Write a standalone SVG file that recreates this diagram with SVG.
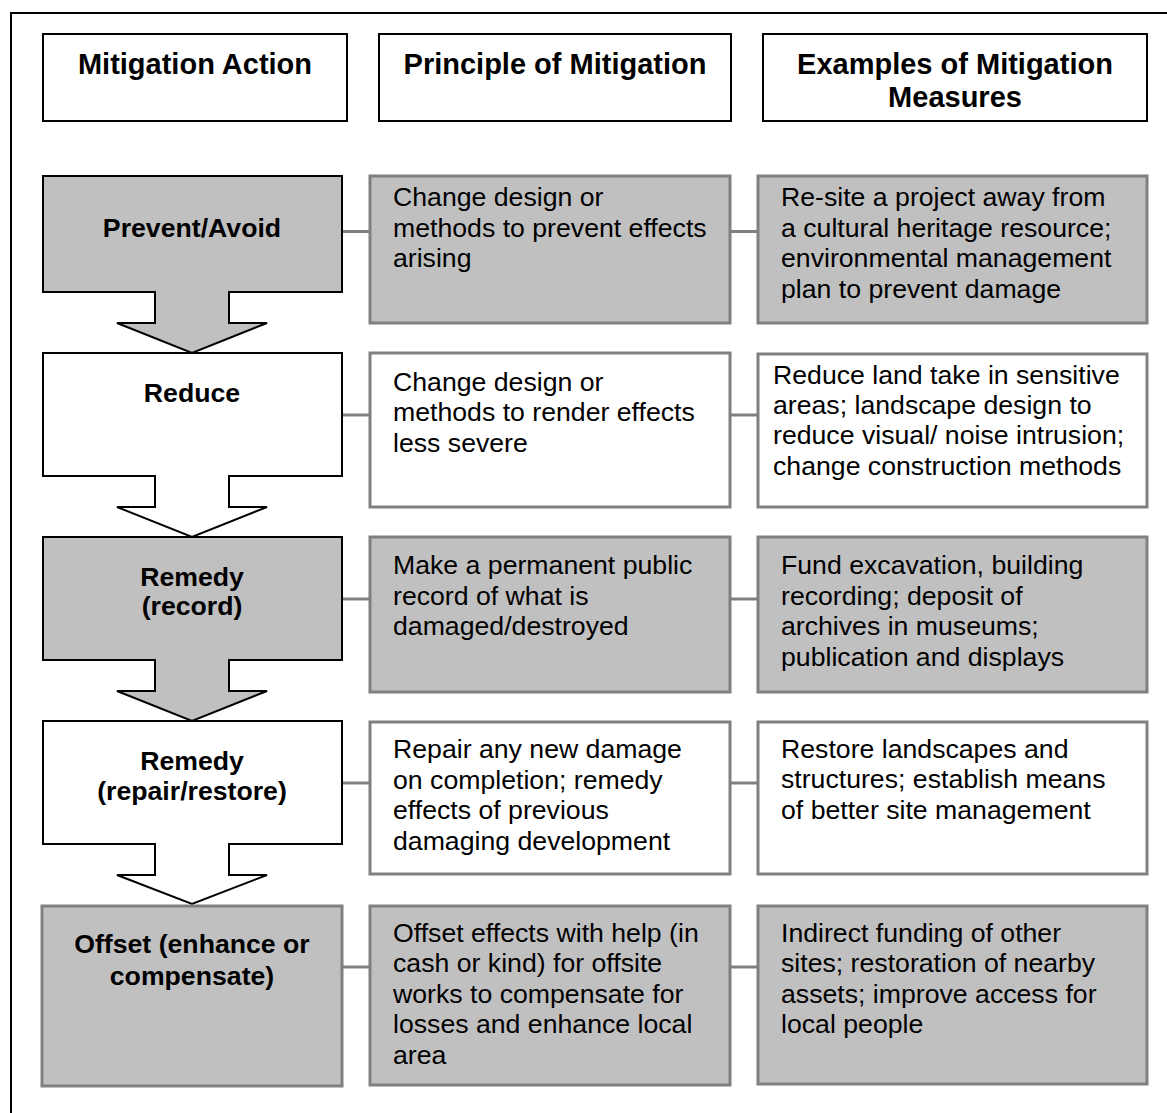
<svg xmlns="http://www.w3.org/2000/svg" width="1167" height="1113" viewBox="0 0 1167 1113">
  <style>
    .frame { fill: none; stroke: #000; stroke-width: 2; }
    .head { fill: #fff; stroke: #000; stroke-width: 2; }
    .htxt { font-family: "Liberation Sans", Arial, sans-serif; font-size: 29px; font-weight: bold; fill: #000; text-anchor: middle; }
    .act-grey { fill: #c0c0c0; stroke: #000; stroke-width: 2; stroke-linejoin: miter; }
    .act-white { fill: #fff; stroke: #000; stroke-width: 2; stroke-linejoin: miter; }
    .act-end { fill: #c0c0c0; stroke: #808080; stroke-width: 3; }
    .atxt { font-family: "Liberation Sans", Arial, sans-serif; font-size: 26.67px; font-weight: bold; fill: #000; text-anchor: middle; }
    .box-grey { fill: #c0c0c0; stroke: #808080; stroke-width: 3; }
    .box-white { fill: #fff; stroke: #808080; stroke-width: 3; }
    .btxt { font-family: "Liberation Sans", Arial, sans-serif; font-size: 26.67px; fill: #000; }
    .link { stroke: #808080; stroke-width: 3; fill: none; }
  </style>

  <!-- outer frame (runs off the right and bottom edges) -->
  <rect class="frame" x="11" y="13" width="1200" height="1200"/>

  <!-- connectors -->
  <g id="connectors">
    <line class="link" x1="342" y1="231.5" x2="370" y2="231.5"/>
    <line class="link" x1="730" y1="231.5" x2="758" y2="231.5"/>
    <line class="link" x1="342" y1="415" x2="370" y2="415"/>
    <line class="link" x1="730" y1="415" x2="758" y2="415"/>
    <line class="link" x1="342" y1="599" x2="370" y2="599"/>
    <line class="link" x1="730" y1="599" x2="758" y2="599"/>
    <line class="link" x1="342" y1="783" x2="370" y2="783"/>
    <line class="link" x1="730" y1="783" x2="758" y2="783"/>
    <line class="link" x1="342" y1="967" x2="370" y2="967"/>
    <line class="link" x1="730" y1="967" x2="758" y2="967"/>
  </g>

  <!-- column headers -->
  <g id="hdr-action">
    <rect class="head" x="43" y="34" width="304" height="87"/>
    <text class="htxt" x="195" y="74">Mitigation Action</text>
  </g>
  <g id="hdr-principle">
    <rect class="head" x="379" y="34" width="352" height="87"/>
    <text class="htxt" x="555" y="74">Principle of Mitigation</text>
  </g>
  <g id="hdr-examples">
    <rect class="head" x="763" y="34" width="384" height="87"/>
    <text class="htxt" x="955" y="74">Examples of Mitigation</text>
    <text class="htxt" x="955" y="107">Measures</text>
  </g>

  <!-- mitigation actions: boxes with downward block arrows -->
  <g id="act-prevent">
    <path class="act-grey" d="M43,176 H342 V292 H229 V323 H267 L192,353 L117,323 H155 V292 H43 Z"/>
    <text class="atxt" x="192" y="236.5">Prevent/Avoid</text>
  </g>
  <g id="act-reduce">
    <path class="act-white" d="M43,353 H342 V476 H229 V507 H267 L192,537 L117,507 H155 V476 H43 Z"/>
    <text class="atxt" x="192" y="401.5">Reduce</text>
  </g>
  <g id="act-record">
    <path class="act-grey" d="M43,537 H342 V660 H229 V691 H267 L192,721 L117,691 H155 V660 H43 Z"/>
    <text class="atxt" x="192" y="585.5">Remedy</text>
    <text class="atxt" x="192" y="615">(record)</text>
  </g>
  <g id="act-restore">
    <path class="act-white" d="M43,721 H342 V844 H229 V875 H267 L192,904 L117,875 H155 V844 H43 Z"/>
    <text class="atxt" x="192" y="770">Remedy</text>
    <text class="atxt" x="192" y="800">(repair/restore)</text>
  </g>
  <g id="act-offset">
    <rect class="act-end" x="42" y="906" width="300" height="180"/>
    <text class="atxt" x="192" y="953">Offset (enhance or</text>
    <text class="atxt" x="192" y="985">compensate)</text>
  </g>

  <!-- principles -->
  <g id="pr-prevent">
    <rect class="box-grey" x="370" y="176" width="360" height="147"/>
    <text class="btxt" x="393" y="206">Change design or</text>
    <text class="btxt" x="393" y="236.5">methods to prevent effects</text>
    <text class="btxt" x="393" y="267">arising</text>
  </g>
  <g id="pr-reduce">
    <rect class="box-white" x="370" y="353" width="360" height="154"/>
    <text class="btxt" x="393" y="390.5">Change design or</text>
    <text class="btxt" x="393" y="421">methods to render effects</text>
    <text class="btxt" x="393" y="451.5">less severe</text>
  </g>
  <g id="pr-record">
    <rect class="box-grey" x="370" y="537" width="360" height="155"/>
    <text class="btxt" x="393" y="574">Make a permanent public</text>
    <text class="btxt" x="393" y="604.5">record of what is</text>
    <text class="btxt" x="393" y="635">damaged/destroyed</text>
  </g>
  <g id="pr-restore">
    <rect class="box-white" x="370" y="722" width="360" height="152"/>
    <text class="btxt" x="393" y="758">Repair any new damage</text>
    <text class="btxt" x="393" y="788.5">on completion; remedy</text>
    <text class="btxt" x="393" y="819">effects of previous</text>
    <text class="btxt" x="393" y="849.5">damaging development</text>
  </g>
  <g id="pr-offset">
    <rect class="box-grey" x="370" y="906" width="360" height="179"/>
    <text class="btxt" x="393" y="941.5">Offset effects with help (in</text>
    <text class="btxt" x="393" y="972">cash or kind) for offsite</text>
    <text class="btxt" x="393" y="1002.5">works to compensate for</text>
    <text class="btxt" x="393" y="1033">losses and enhance local</text>
    <text class="btxt" x="393" y="1063.5">area</text>
  </g>

  <!-- example measures -->
  <g id="ex-prevent">
    <rect class="box-grey" x="758" y="176" width="389" height="147"/>
    <text class="btxt" x="781" y="206">Re-site a project away from</text>
    <text class="btxt" x="781" y="236.5">a cultural heritage resource;</text>
    <text class="btxt" x="781" y="267">environmental management</text>
    <text class="btxt" x="781" y="297.5">plan to prevent damage</text>
  </g>
  <g id="ex-reduce">
    <rect class="box-white" x="758" y="354" width="389" height="153"/>
    <text class="btxt" x="773" y="383.5">Reduce land take in sensitive</text>
    <text class="btxt" x="773" y="413.5">areas; landscape design to</text>
    <text class="btxt" x="773" y="444">reduce visual/ noise intrusion;</text>
    <text class="btxt" x="773" y="474.5">change construction methods</text>
  </g>
  <g id="ex-record">
    <rect class="box-grey" x="758" y="537" width="389" height="155"/>
    <text class="btxt" x="781" y="574">Fund excavation, building</text>
    <text class="btxt" x="781" y="604.5">recording; deposit of</text>
    <text class="btxt" x="781" y="635">archives in museums;</text>
    <text class="btxt" x="781" y="665.5">publication and displays</text>
  </g>
  <g id="ex-restore">
    <rect class="box-white" x="758" y="722" width="389" height="152"/>
    <text class="btxt" x="781" y="757.5">Restore landscapes and</text>
    <text class="btxt" x="781" y="788">structures; establish means</text>
    <text class="btxt" x="781" y="818.5">of better site management</text>
  </g>
  <g id="ex-offset">
    <rect class="box-grey" x="758" y="906" width="389" height="178"/>
    <text class="btxt" x="781" y="941.5">Indirect funding of other</text>
    <text class="btxt" x="781" y="972">sites; restoration of nearby</text>
    <text class="btxt" x="781" y="1002.5">assets; improve access for</text>
    <text class="btxt" x="781" y="1033">local people</text>
  </g>
</svg>
